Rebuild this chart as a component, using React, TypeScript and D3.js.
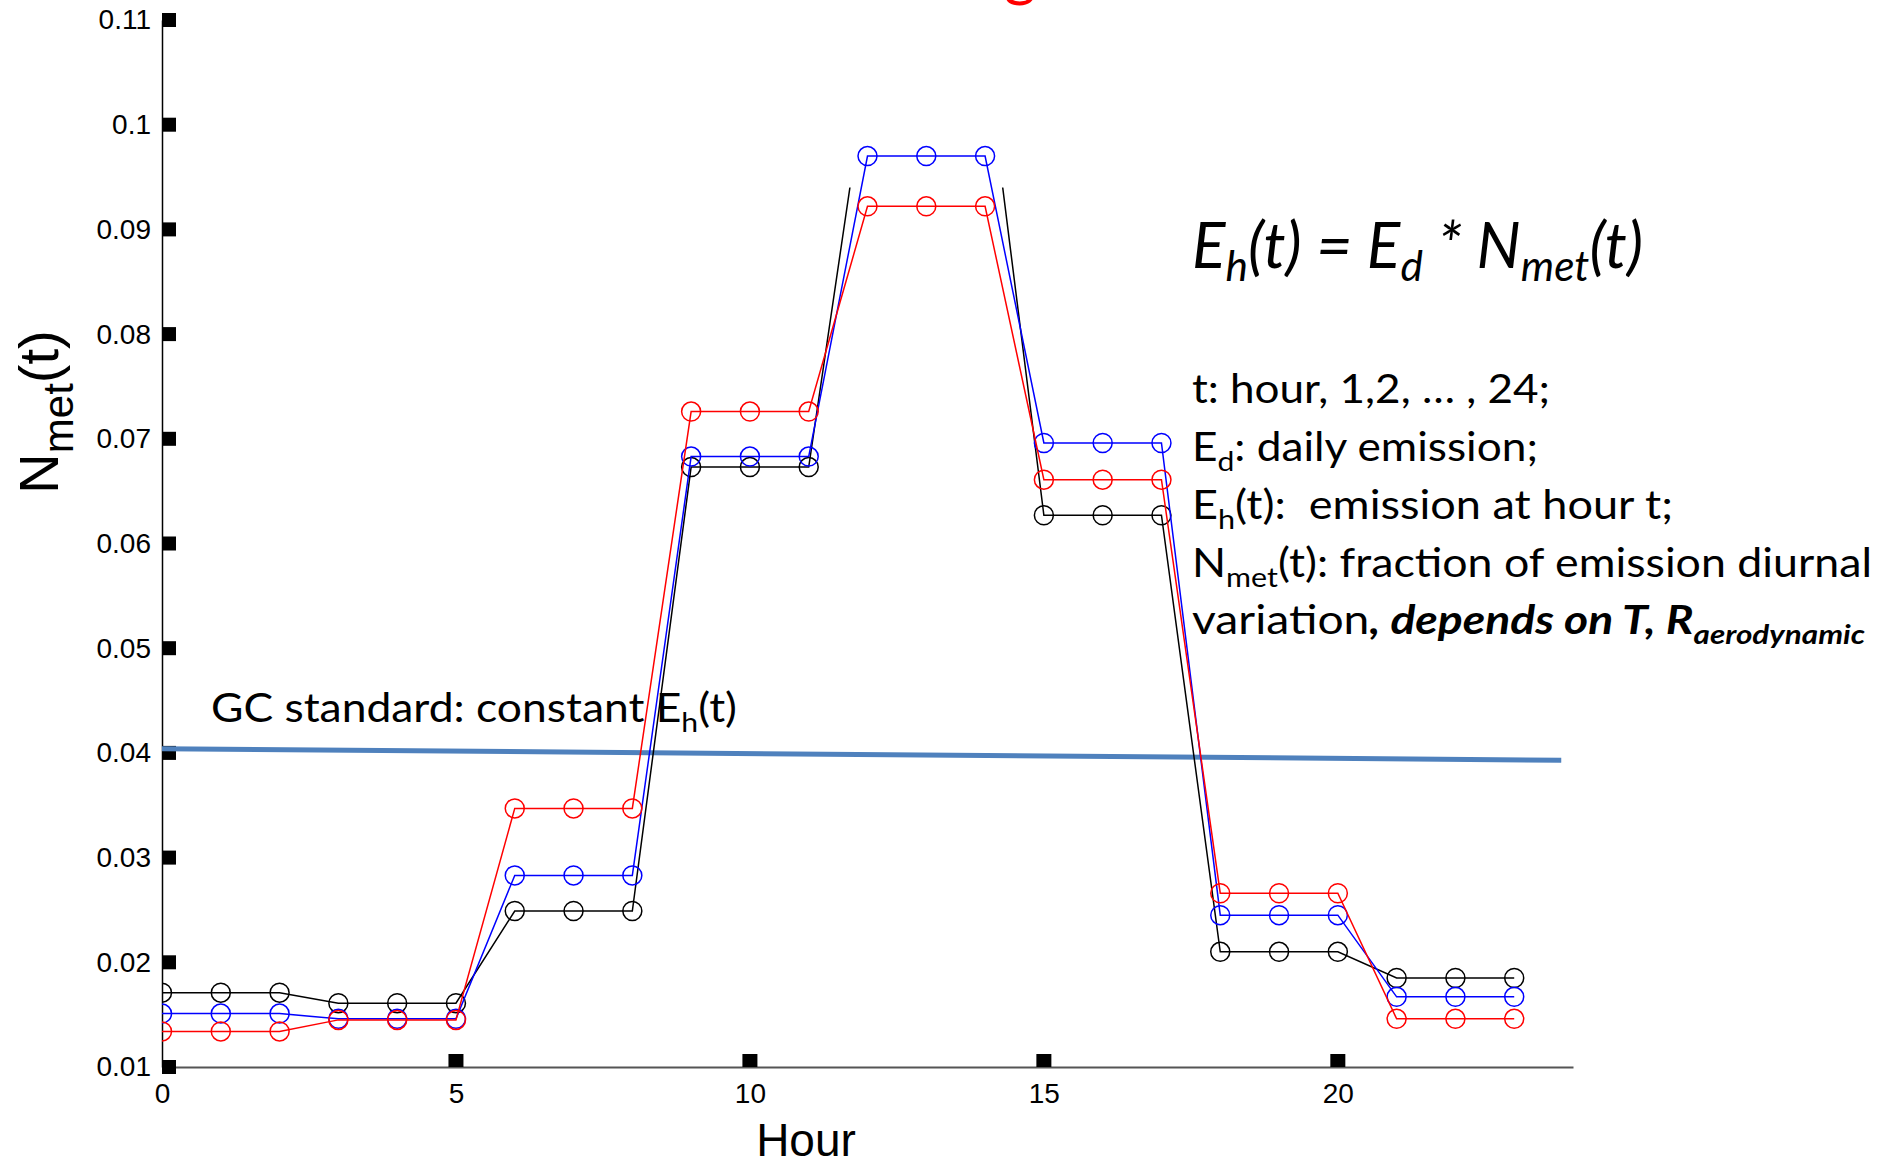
import React, { useRef, useEffect } from "react";
import * as d3 from "d3";

// hours on the x axis
const hours = [0, 1, 2, 3, 4, 5, 6, 7, 8, 9, 10, 11, 12, 13, 14, 15, 16, 17, 18, 19, 20, 21, 22, 23];

// N_met(t) for three cases
const blackSeries = [0.0171, 0.0171, 0.0171, 0.0161, 0.0161, 0.0161, 0.0249, 0.0249, 0.0249, 0.0673, 0.0673, 0.0673, 0.1054, 0.1064, 0.1074, 0.0627, 0.0627, 0.0627, 0.021, 0.021, 0.021, 0.0185, 0.0185, 0.0185];
const blueSeries = [0.0151, 0.0151, 0.0151, 0.0146, 0.0146, 0.0146, 0.0283, 0.0283, 0.0283, 0.0683, 0.0683, 0.0683, 0.097, 0.097, 0.097, 0.0696, 0.0696, 0.0696, 0.0245, 0.0245, 0.0245, 0.0167, 0.0167, 0.0167];
const redSeries = [0.0134, 0.0134, 0.0134, 0.0145, 0.0145, 0.0145, 0.0347, 0.0347, 0.0347, 0.0726, 0.0726, 0.0726, 0.0922, 0.0922, 0.0922, 0.0661, 0.0661, 0.0661, 0.0266, 0.0266, 0.0266, 0.0146, 0.0146, 0.0146];

// hand drawn "GC standard" line (slightly tilted)
const gcHours = [0, 23.8];
const gcValues = [0.0404, 0.0393];

const xTicks = [0, 5, 10, 15, 20];
const yTicks = [0.01, 0.02, 0.03, 0.04, 0.05, 0.06, 0.07, 0.08, 0.09, 0.1, 0.11];

const axisFont = "'Liberation Sans', Arial, Helvetica, sans-serif";
const noteFont = "Lato, 'Open Sans', sans-serif";

type Part = { t: string; sub?: boolean; bold?: boolean; italic?: boolean };

// text with subscripts, built from tspans
function richText(g, x, y, parts: Part[], size, opts: any = {}) {
  const subSize = size * (opts.subScale || 0.68);
  const shift = size * (opts.shift || 0.24);
  const t = g
    .append("text")
    .attr("x", x)
    .attr("y", y)
    .style("font-family", opts.family || noteFont)
    .style("font-size", `${size}px`)
    .attr("fill", opts.fill || "#000");
  if (opts.width) t.attr("textLength", opts.width).attr("lengthAdjust", "spacingAndGlyphs");
  let down = false;
  parts.forEach((p) => {
    const s = t.append("tspan").text(p.t);
    if (p.sub) {
      s.style("font-size", `${subSize}px`);
      if (!down) s.attr("dy", shift);
      down = true;
    } else if (down) {
      s.attr("dy", -shift);
      down = false;
    }
    if (p.bold || opts.bold) s.style("font-weight", "bold");
    if (p.italic || opts.italic) s.style("font-style", "italic");
  });
  return t;
}

const App = () => {
  const svgRef = useRef(null);

  useEffect(() => {
    const width = 1888;
    const height = 1162;
    const svg = d3.select(svgRef.current).attr("width", width).attr("height", height);
    svg.selectAll("*").remove();

    const x = d3.scaleLinear().domain([0, 24]).range([162, 1573]);
    const y = d3.scaleLinear().domain([0.01, 0.11]).range([1067, 20]);

    svg
      .append("defs")
      .append("clipPath")
      .attr("id", "plot-clip")
      .append("rect")
      .attr("x", x(0))
      .attr("y", 0)
      .attr("width", x(24) - x(0))
      .attr("height", y(0.01));

    // x axis
    const xAxis = svg
      .append("g")
      .attr("transform", `translate(0,${y(0.01)})`)
      .call(d3.axisBottom(x).tickValues(xTicks).tickSize(0).tickPadding(16).tickFormat(d3.format("d")));
    xAxis.select(".domain").attr("stroke", "#555").attr("stroke-width", 2);
    xAxis.selectAll("text").style("font-family", axisFont).style("font-size", "28px").attr("fill", "#000");

    // y axis
    const yAxis = svg
      .append("g")
      .attr("transform", `translate(${x(0)},0)`)
      .call(d3.axisLeft(y).tickValues(yTicks).tickSize(0).tickPadding(11).tickFormat((d) => `${+d.toFixed(2)}`));
    yAxis.select(".domain").attr("stroke", "#000").attr("stroke-width", 1.5);
    yAxis.selectAll("text").style("font-family", axisFont).style("font-size", "28px").attr("fill", "#000");

    // square tick marks
    svg
      .append("g")
      .selectAll("rect")
      .data(yTicks)
      .join("rect")
      .attr("x", x(0))
      .attr("y", (d) => y(d) - 7)
      .attr("width", 14)
      .attr("height", 14)
      .attr("fill", "#000");
    svg
      .append("g")
      .selectAll("rect")
      .data(xTicks.filter((d) => d > 0))
      .join("rect")
      .attr("x", (d) => x(d) - 7.5)
      .attr("y", y(0.01) - 13)
      .attr("width", 15)
      .attr("height", 13)
      .attr("fill", "#000");

    // GC standard line
    svg
      .append("path")
      .datum(gcHours.map((h, i) => [h, gcValues[i]]))
      .attr("d", d3.line().x((d) => x(d[0])).y((d) => y(d[1])))
      .attr("fill", "none")
      .attr("stroke", "#4f81bd")
      .attr("stroke-width", 5);

    const plot = svg.append("g").attr("clip-path", "url(#plot-clip)");
    const line = d3
      .line()
      .x((d) => x(d[0]))
      .y((d) => y(d[1]));

    const drawSeries = (values, color) => {
      const pts = hours.map((h, i) => [h, values[i]]);
      const g = plot.append("g");
      g.append("path")
        .datum(pts)
        .attr("d", line)
        .attr("fill", "none")
        .attr("stroke", color)
        .attr("stroke-width", 1.5);
      g.selectAll("circle")
        .data(pts)
        .join("circle")
        .attr("cx", (d) => x(d[0]))
        .attr("cy", (d) => y(d[1]))
        .attr("r", 9.5)
        .attr("fill", "none")
        .attr("stroke", color)
        .attr("stroke-width", 1.5);
    };

    drawSeries(blackSeries, "#000");
    // the slide's title box hides the top of the black peak
    plot
      .append("rect")
      .attr("x", x(11.62))
      .attr("y", 0)
      .attr("width", x(14.38) - x(11.62))
      .attr("height", y(0.094))
      .attr("fill", "#fff");
    drawSeries(blueSeries, "#0000ff");
    drawSeries(redSeries, "#ff0000");

    // axis titles
    svg
      .append("text")
      .attr("x", 806)
      .attr("y", 1156)
      .attr("text-anchor", "middle")
      .style("font-family", axisFont)
      .style("font-size", "46px")
      .text("Hour");

    const yl = svg.append("g").attr("transform", `translate(58,412) rotate(-90)`);
    richText(yl, 0, 0, [{ t: "N" }, { t: "met", sub: true }, { t: "(t)" }], 56, {
      family: axisFont,
      subScale: 0.75,
      shift: 0.27,
    }).attr("text-anchor", "middle");

    // cut-off red title at the top
    svg
      .append("text")
      .attr("x", 1004)
      .attr("y", -6)
      .style("font-family", noteFont)
      .style("font-size", "62px")
      .attr("fill", "#ff0000")
      .text("g");

    // annotations
    const notes = svg.append("g");
    richText(
      notes,
      211,
      722,
      [{ t: "GC standard: constant E" }, { t: "h", sub: true }, { t: "(t)" }],
      40,
      { width: 526 }
    );

    richText(
      notes,
      1192,
      268,
      [
        { t: "E" },
        { t: "h", sub: true },
        { t: "(t) = E" },
        { t: "d", sub: true },
        { t: " * N" },
        { t: "met", sub: true },
        { t: "(t)" },
      ],
      64,
      { italic: true, width: 451, subScale: 0.68, shift: 0.2 }
    );

    richText(notes, 1192, 403, [{ t: "t: hour, 1,2, \u2026 , 24;" }], 40, { width: 358 });
    richText(notes, 1192, 461, [{ t: "E" }, { t: "d", sub: true }, { t: ": daily emission;" }], 40, { width: 346 });
    richText(
      notes,
      1192,
      519,
      [{ t: "E" }, { t: "h", sub: true }, { t: "(t):\u00a0 emission at hour t;" }],
      40,
      { width: 481 }
    );
    richText(
      notes,
      1192,
      577,
      [{ t: "N" }, { t: "met", sub: true }, { t: "(t): fraction of emission diurnal" }],
      40,
      { width: 680 }
    );
    richText(
      notes,
      1192,
      634,
      [
        { t: "variation" },
        { t: ", depends on T, R", bold: true, italic: true },
        { t: "aerodynamic", sub: true, bold: true, italic: true },
      ],
      40,
      { width: 673 }
    );
  }, []);

  return (
    <div style={{ position: "absolute", left: 0, top: 0, width: 1888, height: 1162, background: "#fff" }}>
      <svg ref={svgRef} style={{ display: "block" }} />
    </div>
  );
};

export default App;
